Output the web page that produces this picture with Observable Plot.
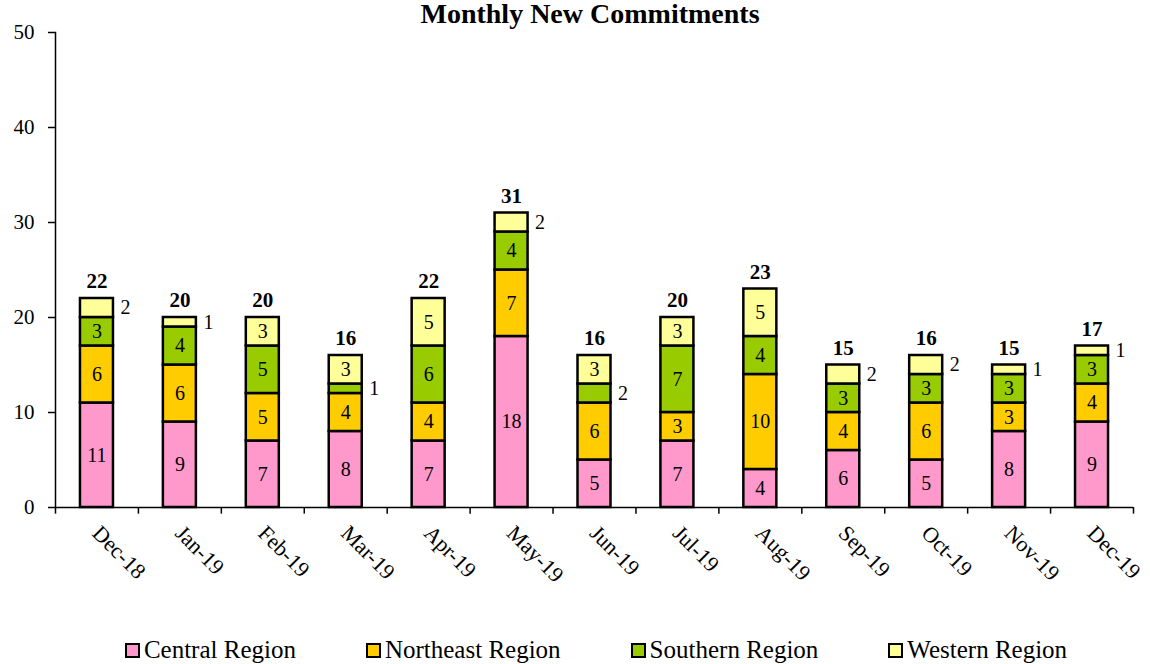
<!DOCTYPE html>
<html>
<head>
<meta charset="utf-8">
<script src="https://cdn.jsdelivr.net/npm/d3@7"></script>
<script src="https://cdn.jsdelivr.net/npm/@observablehq/plot@0.6"></script>
<style>
  body { margin: 0; background: #fff; font-family: "Liberation Serif", serif; }
  #title { height: 28px; line-height: 28px; font-size: 28px; font-weight: bold; text-align: center; padding-left: 30px; color: #000; }
  #chart svg { overflow: visible; }
  #legend { display: flex; justify-content: center; gap: 70px; padding-left: 42px; padding-top: 26px; line-height: 32px; font-size: 25px; color: #000; }
  .item { display: flex; align-items: center; }
  .sw { width: 11px; height: 11px; border: 2px solid #000; margin-right: 4px; }
</style>
</head>
<body>
<div id="title">Monthly New Commitments</div>
<div id="chart"></div>
<div id="legend"></div>
<script>
const months = ["Dec-18","Jan-19","Feb-19","Mar-19","Apr-19","May-19","Jun-19","Jul-19","Aug-19","Sep-19","Oct-19","Nov-19","Dec-19"];
const regions = ["Central Region","Northeast Region","Southern Region","Western Region"];
const central   = [11, 9, 7, 8, 7, 18, 5, 7, 4, 6, 5, 8, 9];
const northeast = [ 6, 6, 5, 4, 4,  7, 6, 3,10, 4, 6, 3, 4];
const southern  = [ 3, 4, 5, 1, 6,  4, 2, 7, 4, 3, 3, 3, 3];
const western   = [ 2, 1, 3, 3, 5,  2, 3, 3, 5, 2, 2, 1, 1];
const yTicks = [0, 10, 20, 30, 40, 50];
const colors = ["#FF99CC", "#FFCC00", "#99CC00", "#FFFF99"];

const series = [central, northeast, southern, western];
const rows = [];
months.forEach((m, i) => {
  let base = 0;
  series.forEach((s, k) => {
    rows.push({month: m, region: regions[k], value: s[i], y1: base, y2: base + s[i], mid: base + s[i] / 2});
    base += s[i];
  });
});
const totals = months.map((m, i) => ({month: m, total: series.reduce((a, s) => a + s[i], 0)}));

const W = 1150, ML = 55, MR = 17;
const step = (W - ML - MR) / months.length;
const inset = (step - 33) / 2;

const chart = Plot.plot({
  width: W,
  height: 580,
  marginTop: 4,
  marginBottom: 101,
  marginLeft: ML,
  marginRight: MR,
  style: {fontFamily: "'Liberation Serif', serif", fontSize: "20px", color: "#000", background: "transparent"},
  x: {domain: months, padding: 0, round: false, axis: null},
  y: {domain: [0, 50], axis: null},
  color: {domain: regions, range: colors},
  marks: [
    Plot.barY(rows, {x: "month", y1: "y1", y2: "y2", fill: "region", stroke: "#000", strokeWidth: 2.5, insetLeft: inset, insetRight: inset}),
    Plot.text(rows.filter(d => d.value > 2), {x: "month", y: "mid", text: "value", fontSize: 20, fill: "#000"}),
    Plot.text(rows.filter(d => d.value <= 2), {x: "month", y: "mid", text: "value", fontSize: 20, fill: "#000", textAnchor: "start", dx: step / 2 - inset + 7}),
    Plot.text(totals, {x: "month", y: "total", text: "total", fontSize: 21, fontWeight: "bold", fill: "#000", dy: -17}),
    Plot.ruleY([0], {stroke: "#000", strokeWidth: 1.5}),
    Plot.frame({anchor: "left", stroke: "#000", strokeWidth: 1.5}),
    Plot.ruleX(months, {x: d => d, dx: -step / 2, y1: 0, y2: -0.7, stroke: "#000", strokeWidth: 1.5}),
    Plot.ruleX(months.slice(-1), {x: d => d, dx: step / 2, y1: 0, y2: -0.7, stroke: "#000", strokeWidth: 1.5}),
    Plot.axisY({ticks: yTicks, tickSize: 7, tickPadding: 14, fontSize: 21, stroke: "#000", strokeWidth: 1.5, fill: "#000", label: null}),
    Plot.axisX({tickRotate: 45, tickSize: 0, tickPadding: 22, dx: -1, fontSize: 22, fill: "#000", label: null})
  ]
});
document.getElementById("chart").appendChild(chart);

const legend = document.getElementById("legend");
regions.forEach((r, k) => {
  const item = document.createElement("div");
  item.className = "item";
  const sw = document.createElement("div");
  sw.className = "sw";
  sw.style.background = colors[k];
  const t = document.createElement("span");
  t.textContent = r;
  item.appendChild(sw);
  item.appendChild(t);
  legend.appendChild(item);
});
</script>
</body>
</html>
